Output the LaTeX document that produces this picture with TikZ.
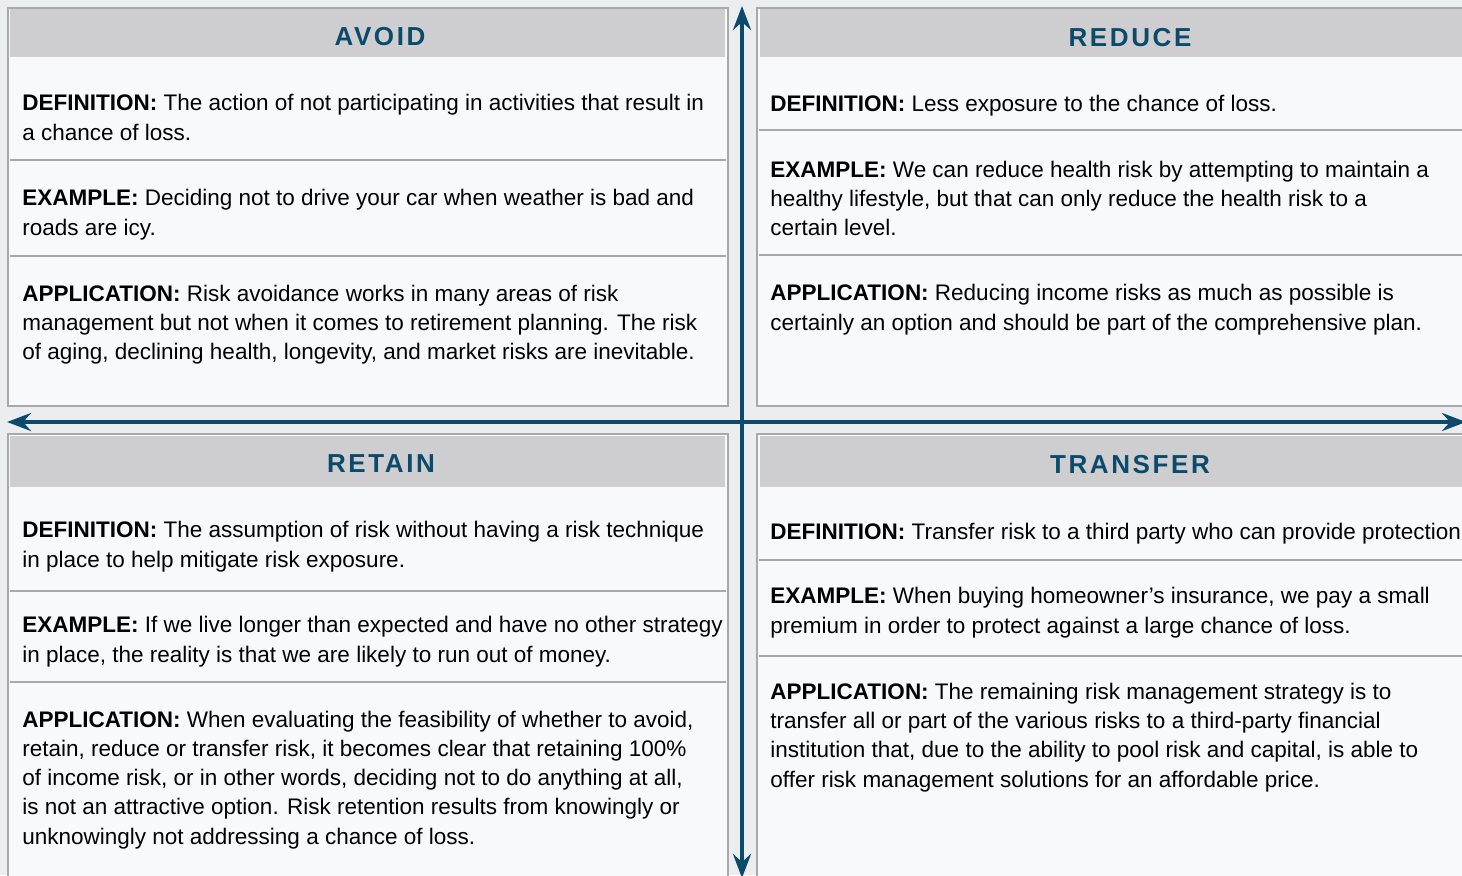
\documentclass[tikz,border=0pt]{standalone}
\usepackage{fontspec}
\setmainfont{Liberation Sans}
\usetikzlibrary{arrows.meta,positioning}
\definecolor{riskblue}{HTML}{0C4A6B}
\definecolor{headgray}{HTML}{CECED0}
\definecolor{linegray}{HTML}{A9A9AB}
\definecolor{bggray}{HTML}{ECEDEF}
\definecolor{panelwhite}{HTML}{F8F9FA}
\begin{document}
\begin{tikzpicture}[x=0.5pt,y=-0.5pt,
                panel/.style={draw=linegray,line width=0.6pt,fill=panelwhite},
                header/.style={fill=headgray},
                rule/.style={draw=linegray,line width=0.75pt},
                title/.style={anchor=base,inner sep=0pt,text=riskblue,
                  font=\fontsize{13}{15}\selectfont\bfseries\addfontfeature{LetterSpace=10}},
                body/.style={anchor=base west,align=left,inner sep=0pt,
                  font=\fontsize{11.25}{14.625}\selectfont},
                axis/.style={riskblue,line width=2pt,
                  {Stealth[length=12pt,width=9pt,inset=4pt]}-{Stealth[length=12pt,width=9pt,inset=4pt]}}]
                \fill[bggray] (0,0) rectangle (1462,875);
                \useasboundingbox (0,0) rectangle (1462,875);
                % panels
                \draw[panel] (8,8) rectangle (728,406);
                \fill[header] (10,9) rectangle (725,57);
                \draw[rule] (10,160) -- (726,160) (10,256) -- (726,256);
                \draw[panel] (757,8) rectangle (1500,406);
                \fill[header] (760,9) rectangle (1500,57);
                \draw[rule] (759,130) -- (1500,130) (759,255) -- (1500,255);
                \draw[panel] (8,434) rectangle (728,890);
                \fill[header] (10,436) rectangle (725,487);
                \draw[rule] (10,591) -- (726,591) (10,682) -- (726,682);
                \draw[panel] (757,434) rectangle (1500,890);
                \fill[header] (760,436) rectangle (1500,487);
                \draw[rule] (759,560) -- (1500,560) (759,656) -- (1500,656);
                % titles
                \node[title] (avoid) at (380,45) {AVOID};
                \node[title] (reduce) at (1130,46) {REDUCE};
                \node[title] (retain) at (381,472) {RETAIN};
                \node[title] (transfer) at (1130,473) {TRANSFER};
                % avoid (nodes sit on the baseline of their last line)
                \node[body] (avoid-def) at (22,140) {\textbf{DEFINITION:} The action of not participating in activities that result in\\a chance of loss.};
                \node[body] (avoid-ex) at (22,235) {\textbf{EXAMPLE:} Deciding not to drive your car when weather is bad and\\roads are icy.};
                \node[body] (avoid-app) at (22,359.5) {\textbf{APPLICATION:} Risk avoidance works in many areas of risk\\management but not when it comes to retirement planning. The risk\\of aging, declining health, longevity, and market risks are inevitable.};
                % reduce
                \node[body] (reduce-def) at (770,111) {\textbf{DEFINITION:} Less exposure to the chance of loss.};
                \node[body] (reduce-ex) at (770,235.5) {\textbf{EXAMPLE:} We can reduce health risk by attempting to maintain a\\healthy lifestyle, but that can only reduce the health risk to a\\certain level.};
                \node[body] (reduce-app) at (770,330) {\textbf{APPLICATION:} Reducing income risks as much as possible is\\certainly an option and should be part of the comprehensive plan.};
                % retain
                \node[body] (retain-def) at (22,567) {\textbf{DEFINITION:} The assumption of risk without having a risk technique\\in place to help mitigate risk exposure.};
                \node[body] (retain-ex) at (22,662) {\textbf{EXAMPLE:} If we live longer than expected and have no other strategy\\in place, the reality is that we are likely to run out of money.};
                \node[body] (retain-app) at (22,844) {\textbf{APPLICATION:} When evaluating the feasibility of whether to avoid,\\retain, reduce or transfer risk, it becomes clear that retaining 100\%\\of income risk, or in other words, deciding not to do anything at all,\\is not an attractive option. Risk retention results from knowingly or\\unknowingly not addressing a chance of loss.};
                % transfer
                \node[body] (transfer-def) at (770,539) {\textbf{DEFINITION:} Transfer risk to a third party who can provide protection};
                \node[body] (transfer-ex) at (770,633) {\textbf{EXAMPLE:} When buying homeowner’s insurance, we pay a small\\premium in order to protect against a large chance of loss.};
                \node[body] (transfer-app) at (770,787) {\textbf{APPLICATION:} The remaining risk management strategy is to\\transfer all or part of the various risks to a third-party financial\\institution that, due to the ability to pool risk and capital, is able to\\offer risk management solutions for an affordable price.};
                % axes
                \coordinate (axis-n) at (742,6);
                \coordinate (axis-s) at (742,878);
                \coordinate (axis-w) at (7,422);
                \coordinate (axis-e) at (1466,422);
                \draw[axis] (axis-s) -- (axis-n);
                \draw[axis] (axis-w) -- (axis-e);
            \end{tikzpicture}
\end{document}
